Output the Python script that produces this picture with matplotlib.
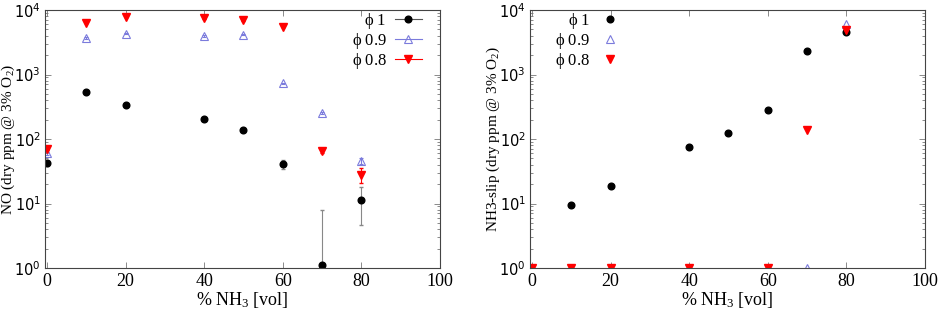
import matplotlib.pyplot as plt
from matplotlib.lines import Line2D
import numpy as np

plt.rcParams['font.family'] = ['Liberation Serif', 'DejaVu Serif']
plt.rcParams['mathtext.fontset'] = 'custom'
plt.rcParams['mathtext.rm'] = 'Liberation Serif'
plt.rcParams['mathtext.it'] = 'Liberation Serif:italic'
plt.rcParams['mathtext.sf'] = 'DejaVu Sans'

# 数据：NO 排放（左图）
x_nh3 = [0, 10, 20, 40, 50, 60, 70, 80]
no_phi1 = [42, 537, 342, 205, 138, 41.7, 1.13, 11.3]
no_phi1_err_lo = [4, 20, 15, 8, 6, 7, 0.9, 6.6]
no_phi1_err_hi = [4, 20, 15, 8, 6, 6, 6.7, 6.7]
no_phi09 = [60, 3650, 4280, 3950, 4150, 730, 251, 46]
no_phi09_err = [3, 100, 100, 100, 100, 20, 8, 5]
no_phi08 = [69.6, 6350, 7880, 7450, 7000, 5530, 65.6, 27.9]
no_phi08_err = [3, 150, 150, 150, 150, 120, 4, 7]

# 数据：NH3 逃逸（右图）
slip_x_phi1 = [10, 20, 40, 50, 60, 70, 80]
slip_phi1 = [9.4, 19, 74, 124, 277, 2320, 4560]
slip_x_phi09 = [0, 10, 20, 40, 60, 70, 80]
slip_phi09 = [1, 1, 1, 1, 1, 1, 6000]
slip_x_phi08 = [0, 10, 20, 40, 60, 70, 80]
slip_phi08 = [1, 1, 1, 1, 1, 138, 4900]

labels = [r'$\mathrm{\phi}$ 1', r'$\mathrm{\phi}$ 0.9', r'$\mathrm{\phi}$ 0.8']

c_blk = 'black'
c_blu = '#7b7bdc'
c_red = 'red'
ms_c, ms_t = 4.8, 5.2

fig = plt.figure(figsize=(9.41, 3.12), dpi=100)
ax1 = fig.add_axes([45 / 941, 1 - 268 / 312, 395 / 941, 258 / 312])
ax2 = fig.add_axes([530 / 941, 1 - 268 / 312, 395 / 941, 258 / 312])

# 左图：带误差棒
ax1.errorbar(x_nh3, no_phi1, yerr=[no_phi1_err_lo, no_phi1_err_hi], fmt='o', color=c_blk,
             ms=ms_c, ecolor='#888888', elinewidth=0.8, capsize=1.5)
ax1.errorbar(x_nh3, no_phi09, yerr=no_phi09_err, fmt='^', color=c_blu, mfc='none',
             ms=ms_t, mew=0.8, ecolor=c_blu, elinewidth=0.8, capsize=1.5)
ax1.errorbar(x_nh3, no_phi08, yerr=no_phi08_err, fmt='v', color=c_red,
             ms=ms_t, ecolor=c_red, elinewidth=0.8, capsize=1.5)
ax1.set_ylabel(r'NO (dry ppm @ 3% O$_2$)', fontsize=11)
ax1.yaxis.set_label_coords(-0.072, 0.5)

# 图例（gnuplot 风格：横线 + 标记）
h1 = [Line2D([], [], color='#555555', lw=0.8, marker='o', mfc=c_blk, mec=c_blk, ms=ms_c),
      Line2D([], [], color=c_blu, lw=0.8, marker='^', mfc='none', mec=c_blu, ms=ms_t, mew=0.8),
      Line2D([], [], color=c_red, lw=0.8, marker='v', mfc=c_red, mec=c_red, ms=ms_t)]
ax1.legend(h1, labels, loc='upper right', frameon=False, markerfirst=False, fontsize=12,
           handlelength=1.6, labelspacing=0.0, borderaxespad=0, borderpad=0,
           handletextpad=0.5, bbox_to_anchor=(0.954, 0.995))

# 右图：仅标记
ax2.plot(slip_x_phi1, slip_phi1, 'o', color=c_blk, ms=ms_c)
ax2.plot(slip_x_phi09, slip_phi09, '^', color=c_blu, mfc='none', ms=ms_t, mew=0.8)
ax2.plot(slip_x_phi08, slip_phi08, 'v', color=c_red, ms=ms_t)
ax2.set_ylabel(r'NH3-slip (dry ppm @ 3% O$_2$)', fontsize=11)
ax2.yaxis.set_label_coords(-0.072, 0.5)
h2 = [Line2D([], [], ls='none', marker='o', color=c_blk, ms=ms_c),
      Line2D([], [], ls='none', marker='^', mfc='none', mec=c_blu, ms=ms_t, mew=0.8),
      Line2D([], [], ls='none', marker='v', color=c_red, ms=ms_t)]
ax2.legend(h2, labels, loc='upper left', frameon=False, markerfirst=False, fontsize=12,
           handlelength=1.2, labelspacing=0.0, borderaxespad=0, borderpad=0,
           handletextpad=0.6, bbox_to_anchor=(0.063, 0.995))

for ax in (ax1, ax2):
    ax.set_yscale('log')
    ax.set_ylim(1, 1e4)
    ax.set_xlim(-0.5, 100)
    ax.set_xticks([0, 20, 40, 60, 80, 100])
    ax.set_yticks([1, 10, 100, 1000, 10000])
    ax.set_yticklabels([r'$\mathsf{10^{%d}}$' % i for i in range(5)])
    ax.set_xlabel(r'% NH$_3$ [vol]', fontsize=13, labelpad=0)
    ax.tick_params(which='both', direction='in', top=True, right=True, labelsize=13,
                   width=0.6, color='#777777')
    ax.tick_params(which='major', length=4)
    ax.tick_params(which='minor', length=2)
    ax.tick_params(axis='y', labelsize=10.5, pad=3)
    for s in ax.spines.values():
        s.set_linewidth(0.8)
        s.set_color('#444444')

fig.savefig('out.png', dpi=100)
